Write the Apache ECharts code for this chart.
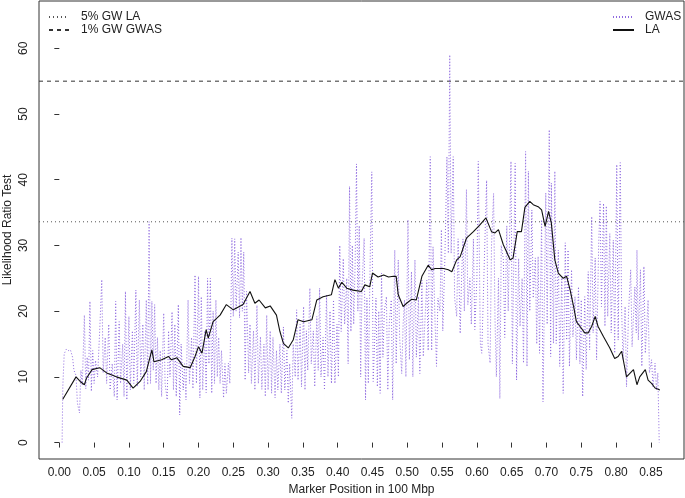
<!DOCTYPE html>
<html>
<head>
<meta charset="utf-8">
<script src="https://cdn.jsdelivr.net/npm/echarts@6/dist/echarts.min.js"></script>
<style>
  html, body { margin: 0; padding: 0; background: #fff; }
  #chart { width: 685px; height: 498px; }
</style>
</head>
<body>
<div id="chart"></div>
<script>
// tick labels
const xTicks = [0, 0.05, 0.1, 0.15, 0.2, 0.25, 0.3, 0.35, 0.4, 0.45, 0.5, 0.55, 0.6, 0.65, 0.7, 0.75, 0.8, 0.85];
const yTicks = [0, 10, 20, 30, 40, 50, 60];
const xRange = [-0.0292, 0.8976];
const yRange = [-2.5, 67.2];

// genome-wide thresholds
const la5Threshold = 33.6;
const gwas1Threshold = 55;

// GWAS likelihood ratio test per marker [position, LRT]
const gwas = [
  [0.004,0.0],[0.005,8.5],[0.007,13.5],[0.010,14.2],[0.013,14.0],[0.016,14.1],[0.019,13.0],[0.021,11.0],[0.024,10.2],[0.026,6.0],[0.029,4.5],[0.031,11.0],[0.033,8.8],[0.036,19.4],[0.038,8.2],[0.040,13.0],[0.042,9.5],[0.044,21.5],[0.046,7.8],[0.048,14.0],[0.050,9.0],
  [0.052,12.5],[0.055,10.0],[0.058,17.0],[0.061,24.8],[0.063,10.6],[0.066,16.0],[0.068,9.0],[0.071,18.0],[0.073,8.0],[0.076,12.0],[0.079,7.0],[0.081,21.5],[0.083,6.5],[0.086,18.4],[0.088,9.0],[0.091,15.0],[0.093,7.0],[0.095,23.0],[0.097,6.5],[0.100,19.2],
  [0.102,8.0],[0.105,17.0],[0.107,9.0],[0.110,23.2],[0.112,8.5],[0.115,21.7],[0.117,10.0],[0.120,18.0],[0.122,8.0],[0.125,21.7],[0.127,8.8],[0.129,33.6],[0.131,9.0],[0.133,21.5],[0.135,11.0],[0.137,21.0],[0.139,9.0],[0.141,16.0],[0.143,8.0],[0.145,14.0],[0.147,7.0],[0.150,19.7],
  [0.152,9.0],[0.155,6.5],[0.157,17.0],[0.159,10.0],[0.162,19.9],[0.164,8.0],[0.166,18.0],[0.168,7.0],[0.171,21.0],[0.173,4.2],[0.175,15.0],[0.178,8.0],[0.180,12.0],[0.182,6.5],[0.185,21.7],[0.187,9.0],[0.190,16.0],[0.192,8.2],[0.195,25.5],[0.197,9.0],
  [0.200,25.3],[0.202,6.8],[0.204,22.2],[0.206,8.0],[0.209,17.0],[0.211,7.6],[0.213,25.0],[0.215,12.0],[0.217,25.0],[0.219,7.5],[0.221,20.0],[0.223,9.0],[0.225,21.7],[0.227,10.0],[0.229,16.0],[0.231,9.0],[0.233,14.0],[0.236,6.8],[0.238,12.0],[0.240,7.5],[0.243,12.1],[0.245,9.0],
  [0.248,31.1],[0.250,19.2],[0.252,31.0],[0.254,20.0],[0.257,29.0],[0.259,19.0],[0.261,31.2],[0.263,20.0],[0.265,29.0],[0.267,9.5],[0.269,23.0],[0.272,10.6],[0.274,18.0],[0.276,9.0],[0.279,17.0],[0.281,8.0],[0.284,20.9],[0.286,9.0],[0.289,16.1],[0.291,8.1],[0.294,15.0],[0.296,7.0],[0.298,19.4],
  [0.300,8.0],[0.303,17.0],[0.305,7.5],[0.307,16.0],[0.310,6.8],[0.312,14.0],[0.314,8.0],[0.317,15.0],[0.319,7.5],[0.322,17.6],[0.324,8.0],[0.327,14.0],[0.329,6.0],[0.331,12.0],[0.334,3.7],[0.336,15.0],[0.339,10.0],[0.341,20.2],[0.343,9.5],[0.346,18.0],[0.348,8.5],[0.351,20.7],[0.353,8.0],
  [0.355,17.0],[0.357,11.0],[0.360,23.5],[0.362,12.0],[0.365,17.0],[0.367,8.5],[0.370,19.2],[0.372,11.0],[0.374,23.5],[0.376,10.0],[0.379,16.0],[0.381,8.0],[0.384,22.5],[0.386,10.0],[0.389,20.0],[0.391,9.0],[0.394,21.7],[0.396,9.0],[0.399,18.0],
  [0.401,10.0],[0.403,30.0],[0.405,16.9],[0.408,28.0],[0.410,18.0],[0.413,25.0],[0.415,12.0],[0.417,39.0],[0.419,16.9],[0.421,30.0],[0.423,18.0],[0.425,27.0],[0.427,42.4],[0.429,20.0],[0.431,33.0],[0.433,10.0],[0.435,24.0],[0.438,31.1],[0.440,6.5],[0.442,22.0],[0.444,9.0],[0.447,30.0],[0.449,41.2],[0.451,9.3],
  [0.453,15.1],[0.455,22.0],[0.457,8.5],[0.459,20.0],[0.461,7.5],[0.463,25.8],[0.465,13.0],[0.467,20.0],[0.470,22.2],[0.472,8.0],[0.474,18.0],[0.477,21.7],[0.479,6.5],[0.482,29.3],[0.484,12.0],[0.487,27.8],[0.489,16.0],[0.492,10.5],[0.494,18.0],[0.496,21.7],[0.498,10.0],[0.501,33.9],[0.503,12.6],
  [0.506,26.0],[0.508,10.0],[0.511,27.8],[0.513,13.0],[0.516,22.2],[0.518,10.5],[0.521,24.7],[0.523,13.1],[0.526,20.0],[0.528,24.7],[0.530,14.0],[0.533,43.5],[0.535,14.0],[0.537,29.8],[0.540,18.0],[0.542,11.6],[0.544,22.0],[0.547,20.0],[0.549,32.4],[0.551,17.0],[0.554,28.0],
  [0.557,43.5],[0.559,28.8],[0.561,59.0],[0.563,28.8],[0.566,43.5],[0.568,22.0],[0.571,19.2],[0.573,31.0],[0.576,16.6],[0.578,25.0],[0.580,31.0],[0.582,20.0],[0.585,38.5],[0.587,21.0],[0.590,25.0],[0.592,18.0],[0.595,31.0],[0.597,17.2],[0.600,25.0],[0.602,42.8],[0.605,15.0],[0.607,13.6],
  [0.610,25.0],[0.614,39.9],[0.616,15.0],[0.619,12.1],[0.621,30.0],[0.624,37.9],[0.626,19.0],[0.628,10.0],[0.631,25.0],[0.633,6.7],[0.635,30.0],[0.638,28.0],[0.640,16.0],[0.643,33.0],[0.645,20.0],[0.649,42.8],[0.651,12.0],[0.655,42.5],[0.657,9.5],[0.660,28.0],[0.662,17.7],[0.665,25.0],[0.667,12.1],[0.670,44.3],[0.672,11.6],[0.674,41.3],[0.676,20.0],[0.679,35.4],[0.681,22.0],[0.684,28.1],[0.686,15.0],
  [0.688,28.3],[0.690,13.6],[0.693,33.9],[0.695,6.2],[0.699,38.0],[0.701,18.0],[0.704,47.6],[0.706,13.1],[0.707,39.5],[0.710,15.1],[0.712,41.3],[0.714,15.1],[0.717,29.3],[0.719,11.6],[0.722,25.3],[0.724,7.5],[0.727,30.4],[0.729,15.6],[0.731,29.3],[0.733,11.6],[0.736,26.3],[0.738,16.1],[0.741,22.2],[0.743,12.6],[0.746,23.7],[0.748,12.0],[0.750,21.7],
  [0.752,7.0],[0.755,22.2],[0.757,11.1],[0.760,26.0],[0.762,14.1],[0.765,34.4],[0.767,16.7],[0.770,28.1],[0.772,12.6],[0.775,30.0],[0.777,36.7],[0.779,20.7],[0.782,36.4],[0.784,17.7],[0.786,36.0],[0.788,19.2],[0.791,31.8],[0.793,16.7],[0.796,30.8],[0.798,13.6],[0.801,42.3],[0.803,15.6],[0.806,42.6],[0.808,20.0],
  [0.810,12.6],[0.813,20.7],[0.815,8.5],[0.818,20.0],[0.821,26.3],[0.823,14.6],[0.827,23.7],[0.829,16.7],[0.830,29.3],[0.832,15.6],[0.835,26.3],[0.837,11.6],[0.840,26.8],[0.842,13.6],[0.846,21.7],[0.848,10.6],[0.851,12.6],[0.853,8.5],[0.856,12.1],[0.858,8.0],[0.860,10.6],[0.862,0.0]
];

// local ancestry likelihood ratio test [position, LRT]
const la = [
  [0.005,6.6],[0.024,10.0],[0.030,9.3],[0.036,8.8],[0.039,9.8],[0.047,11.1],[0.058,11.4],[0.068,10.6],[0.082,10.0],[0.097,9.5],[0.106,8.3],[0.116,9.3],[0.125,10.8],[0.133,14.1],[0.136,12.3],[0.147,12.6],[0.157,13.1],[0.161,12.6],[0.169,12.9],[0.178,11.6],[0.188,11.4],[0.195,13.1],[0.200,14.6],[0.205,13.6],
  [0.211,17.2],[0.214,15.9],[0.221,18.4],[0.231,19.4],[0.240,21.0],[0.250,20.2],[0.264,21.0],[0.274,23.0],[0.281,21.2],[0.287,21.7],[0.296,20.5],[0.303,20.8],[0.312,19.4],[0.317,16.9],[0.322,15.1],[0.329,14.4],[0.336,15.6],[0.343,18.7],[0.351,18.4],[0.363,18.7],[0.370,21.7],[0.379,22.2],[0.391,22.5],
  [0.396,24.8],[0.401,23.5],[0.406,24.4],[0.413,23.5],[0.422,23.2],[0.434,23.0],[0.439,24.0],[0.446,23.7],[0.450,25.8],[0.458,25.2],[0.466,25.5],[0.473,25.2],[0.480,25.3],[0.484,25.3],[0.487,22.5],[0.494,20.7],[0.499,21.2],[0.506,21.8],[0.513,21.7],[0.521,25.3],[0.530,27.0],[0.535,26.3],[0.540,26.5],
  [0.552,26.5],[0.559,26.3],[0.564,26.0],[0.571,27.8],[0.576,28.3],[0.585,31.1],[0.595,32.1],[0.604,33.1],[0.613,34.2],[0.621,32.1],[0.626,31.9],[0.631,32.4],[0.638,30.1],[0.648,27.8],[0.652,28.1],[0.658,32.1],[0.664,32.1],[0.669,35.8],[0.676,36.7],[0.681,36.2],[0.688,35.9],[0.693,35.4],[0.698,32.9],
  [0.703,35.2],[0.707,33.4],[0.712,27.8],[0.717,25.8],[0.724,25.0],[0.729,25.3],[0.734,23.2],[0.739,20.7],[0.743,18.4],[0.748,17.7],[0.755,16.7],[0.760,16.7],[0.765,17.7],[0.770,19.2],[0.774,17.7],[0.782,16.1],[0.791,14.4],[0.798,12.8],[0.803,13.1],[0.808,13.9],[0.815,10.0],[0.825,11.1],[0.830,8.8],
  [0.834,10.0],[0.842,11.1],[0.846,9.5],[0.851,9.0],[0.856,8.3],[0.863,8.0]
];

const font = 'Liberation Sans, Arial, Helvetica, sans-serif';
const chart = echarts.init(document.getElementById('chart'), null, { renderer: 'canvas' });

chart.setOption({
  animation: false,
  backgroundColor: '#fff',
  textStyle: { fontFamily: font },
  grid: {
    left: 39, right: 1, top: 1, bottom: 39,
    outerBoundsMode: 'none', containLabel: false,
    show: true, borderColor: '#333', borderWidth: 1
  },
  legend: [
    {
      data: ['5% GW LA', '1% GW GWAS'],
      orient: 'vertical', left: 43, top: 6,
      itemWidth: 20, itemHeight: 10, itemGap: 1,
      selectedMode: false,
      itemStyle: { opacity: 0 },
      textStyle: { fontFamily: font, fontSize: 12, color: '#222', padding: [0, 0, 0, 7] }
    },
    {
      data: ['GWAS', 'LA'],
      orient: 'vertical', left: 607, top: 6,
      itemWidth: 21, itemHeight: 10, itemGap: 1,
      selectedMode: false,
      itemStyle: { opacity: 0 },
      textStyle: { fontFamily: font, fontSize: 12, color: '#222', padding: [0, 0, 0, 6] }
    }
  ],
  xAxis: {
    type: 'value',
    min: xRange[0], max: xRange[1],
    name: 'Marker Position in 100 Mbp',
    nameLocation: 'middle', nameGap: 25, nameMoveOverlap: false,
    nameTextStyle: { fontFamily: font, fontSize: 12, color: '#222' },
    axisLine: { show: false },
    axisTick: { show: true, customValues: xTicks, length: 5, lineStyle: { color: '#333' } },
    axisLabel: {
      customValues: xTicks, margin: 8, fontSize: 12, color: '#222', fontFamily: font,
      formatter: v => v.toFixed(2)
    },
    splitLine: { show: false }
  },
  yAxis: {
    type: 'value',
    min: yRange[0], max: yRange[1],
    name: 'Likelihood Ratio Test',
    nameLocation: 'middle', nameGap: 25, nameMoveOverlap: false,
    nameTextStyle: { fontFamily: font, fontSize: 12, color: '#222' },
    axisLine: { show: false },
    axisTick: { show: true, customValues: yTicks, length: 5, lineStyle: { color: '#333' } },
    axisLabel: {
      customValues: yTicks, margin: 9, rotate: 90, fontSize: 12, color: '#222', fontFamily: font
    },
    splitLine: { show: false }
  },
  series: [
    {
      name: '5% GW LA', type: 'line', symbol: 'none', silent: true,
      data: [[xRange[0], la5Threshold], [xRange[1], la5Threshold]],
      itemStyle: { color: '#555' },
      lineStyle: { color: '#555', width: 1, type: [1, 3] }
    },
    {
      name: '1% GW GWAS', type: 'line', symbol: 'none', silent: true,
      data: [[xRange[0], gwas1Threshold], [xRange[1], gwas1Threshold]],
      itemStyle: { color: '#333' },
      lineStyle: { color: '#333', width: 1, type: [4, 4] }
    },
    {
      name: 'GWAS', type: 'line', symbol: 'none', silent: true,
      data: gwas,
      itemStyle: { color: '#8f6ae0' },
      lineStyle: { color: '#8f6ae0', width: 1, type: [1, 2] }
    },
    {
      name: 'LA', type: 'line', symbol: 'none', silent: true,
      data: la,
      itemStyle: { color: '#111' },
      lineStyle: { color: '#111', width: 1.1 }
    }
  ]
});
</script>
</body>
</html>
